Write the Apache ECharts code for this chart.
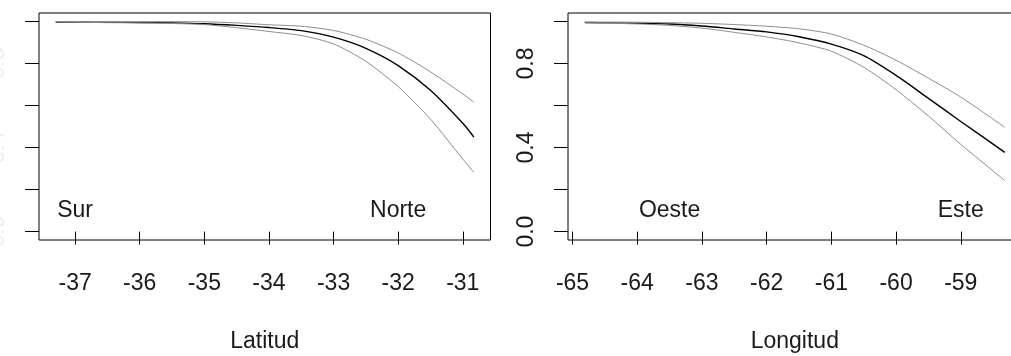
<!DOCTYPE html>
<html>
<head>
<meta charset="utf-8">
<script src="https://cdn.jsdelivr.net/npm/echarts@6/dist/echarts.min.js"></script>
<style>
html,body{margin:0;padding:0;background:#fff;}
#c{width:1011px;height:356px;}
</style>
</head>
<body>
<div id="c"></div>
<script>
// Latitude panel
const latX   = [-37.3, -36.5, -36, -35.5, -35, -34.5, -34, -33.5, -33, -32.5, -32, -31.5, -31, -30.83];
const latMid = [0.997, 0.996, 0.995, 0.993, 0.989, 0.981, 0.971, 0.956, 0.925, 0.872, 0.79, 0.672, 0.515, 0.45];
const latUp  = [0.999, 0.999, 0.999, 0.999, 0.998, 0.993, 0.984, 0.977, 0.957, 0.915, 0.85, 0.76, 0.655, 0.616];
const latLow = [0.998, 0.994, 0.993, 0.99, 0.985, 0.97, 0.952, 0.933, 0.893, 0.81, 0.69, 0.535, 0.345, 0.282];
const latTicks = [-37, -36, -35, -34, -33, -32, -31];
const latNotes = [['Sur', -37, 0.1], ['Norte', -32, 0.1]];

// Longitude panel
const lonX   = [-64.81, -64, -63.5, -63, -62.5, -62, -61.5, -61, -60.5, -60, -59.5, -59, -58.32];
const lonUp  = [0.997, 0.996, 0.994, 0.991, 0.985, 0.977, 0.965, 0.94, 0.887, 0.815, 0.73, 0.64, 0.496];
const lonMid = [0.995, 0.991, 0.988, 0.978, 0.964, 0.95, 0.927, 0.892, 0.837, 0.743, 0.634, 0.524, 0.377];
const lonLow = [0.994, 0.988, 0.981, 0.968, 0.948, 0.926, 0.898, 0.858, 0.782, 0.675, 0.55, 0.415, 0.243];
const lonTicks = [-65, -64, -63, -62, -61, -60, -59];
const lonNotes = [['Oeste', -63.5, 0.1], ['Este', -59, 0.1]];

const yTicks = [0, 0.2, 0.4, 0.6, 0.8, 1.0];
const yLabels = [0, 0.4, 0.8];

const FONT = "'Liberation Sans', Arial, sans-serif";
const FS = 23;
const TXT = '#1a1a1a';

function pad(arr){ const lo=arr[0], hi=arr[arr.length-1], d=(hi-lo)*0.04; return [lo-d, hi+d]; }
const latR = pad(latX), lonR = pad(lonX);

function xAxis(gi, range, ticks, name){
  return {
    type:'value', gridIndex:gi, min:range[0], max:range[1], name:name,
    nameLocation:'middle', nameGap:90,
    nameTextStyle:{fontFamily:FONT, fontSize:FS, color:TXT},
    axisLine:{show:false}, splitLine:{show:false},
    axisTick:{show:true, length:13, lineStyle:{color:'#000', width:1}, customValues:ticks},
    axisLabel:{show:true, customValues:ticks, margin:32, fontFamily:FONT, fontSize:FS, color:TXT,
      formatter:v=>String(Math.round(v))}
  };
}
function yAxis(gi, labelColor){
  return {
    type:'value', gridIndex:gi, min:-0.04, max:1.04,
    axisLine:{show:false}, splitLine:{show:false},
    axisTick:{show:true, length:14, lineStyle:{color:'#000', width:1}, customValues:yTicks},
    axisLabel:{show:true, customValues:yLabels, rotate:90, margin:30, fontFamily:FONT, fontSize:FS, color:labelColor,
      formatter:v=>v.toFixed(1)}
  };
}
function line(xs, ys, gi, color, w, z){
  return {type:'line', xAxisIndex:gi, yAxisIndex:gi, data:xs.map((x,i)=>[x,ys[i]]),
    showSymbol:false, symbol:'none', smooth:0.25,
    lineStyle:{color:color, width:w}, z:z, silent:true, animation:false};
}
function notes(arr, gi){
  return {type:'scatter', xAxisIndex:gi, yAxisIndex:gi, symbolSize:0, silent:true, animation:false,
    itemStyle:{color:'rgba(0,0,0,0)', opacity:1},
    data:arr.map(n=>({name:n[0], value:[n[1], n[2]]})),
    label:{show:true, position:'inside', formatter:'{b}', fontFamily:FONT, fontSize:FS, color:TXT,
      textBorderWidth:0, textBorderColor:'transparent', textShadowBlur:0}};
}

const chart = echarts.init(document.getElementById('c'), null, {renderer:'canvas'});
chart.setOption({
  animation:false,
  backgroundColor:'#fff',
  grid:[
    {left:39, top:13, width:451.5, height:227, show:true, borderColor:'#000', borderWidth:1, backgroundColor:'transparent', containLabel:false, outerBoundsMode:'none'},
    {left:568, top:13, width:453.6, height:227, show:true, borderColor:'#000', borderWidth:1, backgroundColor:'transparent', containLabel:false, outerBoundsMode:'none'}
  ],
  xAxis:[xAxis(0, latR, latTicks, 'Latitud'), xAxis(1, lonR, lonTicks, 'Longitud')],
  yAxis:[yAxis(0, '#eeeeee'), yAxis(1, TXT)],
  series:[
    line(latX, latMid, 0, '#000', 1.4, 2),
    line(latX, latUp, 0, '#8c8c8c', 1, 3),
    line(latX, latLow, 0, '#8c8c8c', 1, 3),
    notes(latNotes, 0),
    line(lonX, lonMid, 1, '#000', 1.4, 2),
    line(lonX, lonUp, 1, '#8c8c8c', 1, 3),
    line(lonX, lonLow, 1, '#8c8c8c', 1, 3),
    notes(lonNotes, 1)
  ]
});
</script>
</body>
</html>
